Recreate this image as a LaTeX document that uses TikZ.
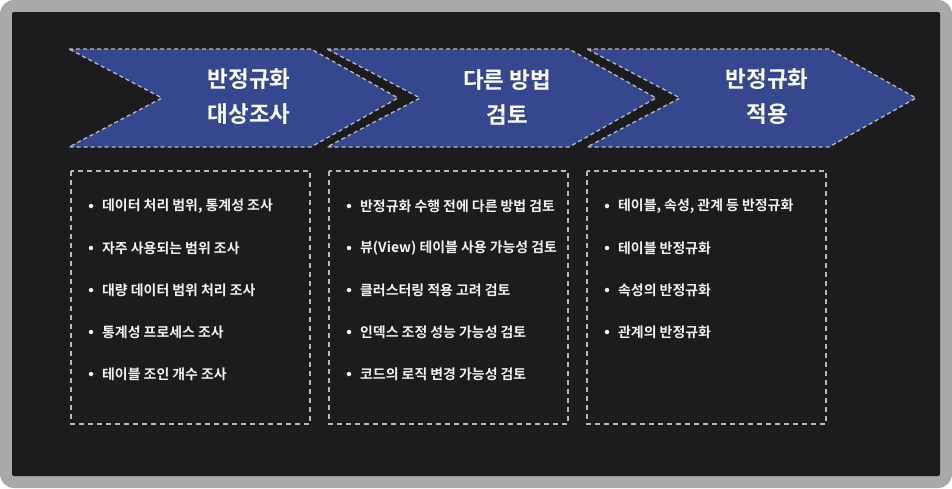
\documentclass[tikz,border=0pt]{standalone}
\usepackage{fontspec}
\setmainfont{Noto Sans CJK KR Bold}
\definecolor{framegray}{HTML}{A9A9A9}
\definecolor{darkbg}{HTML}{1C1C1E}
\definecolor{chevblue}{HTML}{34478F}
\definecolor{dashgray}{HTML}{B8B8B8}
\definecolor{txtwhite}{HTML}{F2F2F2}
\tikzset{
  chev/.style={fill=chevblue, draw=dashgray, line width=1.3pt, dash pattern=on 4pt off 3pt, line join=miter},
  listbox/.style={draw=dashgray, line width=1.6pt, dash pattern=on 5pt off 4pt},
  chevtext/.style={text=white, font=\fontsize{22.5}{35}\selectfont, align=center, inner sep=0pt},
  itemtext/.style={text=txtwhite, font=\fontsize{13.9}{16}\selectfont, anchor=west, inner sep=0pt},
  bulletdot/.style={circle, fill=txtwhite, inner sep=0pt, minimum size=4.5pt}
}
\begin{document}
\begin{tikzpicture}[x=1pt,y=-1pt]
\useasboundingbox (0,0) rectangle (952,488);
\fill[white] (0,0) rectangle (952,488);
\fill[framegray, rounded corners=14pt] (0,0) rectangle (952,488);
\fill[darkbg, rounded corners=2pt] (12,12) rectangle (940,476);
% chevrons
\foreach \x in {69,327,587} {
  \draw[chev] (\x,49) -- (\x+242,49) -- (\x+329,98) -- (\x+242,147) -- (\x,147) -- (\x+93,98) -- cycle;
}
\node[chevtext] (c1) at (249,97) {반정규화\\대상조사};
\node[chevtext] (c2) at (507,97) {다른 방법\\검토};
\node[chevtext] (c3) at (767,97) {반정규화\\적용};
% boxes
\draw[listbox] (71,171) rectangle (310,424);
\draw[listbox] (329,171) rectangle (568,424);
\draw[listbox] (587,171) rectangle (826,424);
% items box 1
\foreach \t [count=\i] in {데이터 처리 범위{,} 통계성 조사, 자주 사용되는 범위 조사, 대량 데이터 범위 처리 조사, 통계성 프로세스 조사, 테이블 조인 개수 조사} {
  \node[bulletdot] (a\i b) at (91,164+42*\i) {};
  \node[itemtext] (a\i) at (102,164+42*\i) {\t};
}
\foreach \t [count=\i] in {반정규화 수행 전에 다른 방법 검토, 뷰(View) 테이블 사용 가능성 검토, 클러스터링 적용 고려 검토, 인덱스 조정 성능 가능성 검토, 코드의 로직 변경 가능성 검토} {
  \node[bulletdot] (b\i b) at (349,164+42*\i) {};
  \node[itemtext] (b\i) at (360,164+42*\i) {\t};
}
\foreach \t [count=\i] in {테이블{,} 속성{,} 관계 등 반정규화, 테이블 반정규화, 속성의 반정규화, 관계의 반정규화} {
  \node[bulletdot] (d\i b) at (607,164+42*\i) {};
  \node[itemtext] (d\i) at (618,164+42*\i) {\t};
}
\end{tikzpicture}
\end{document}
